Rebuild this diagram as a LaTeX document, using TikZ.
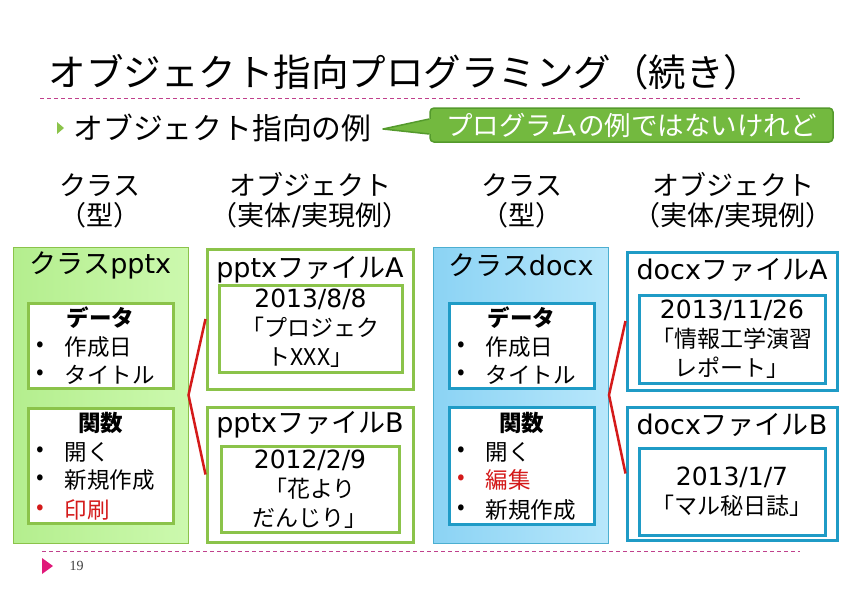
\documentclass[tikz,border=0pt]{standalone}
\usepackage{fontspec}
\setmainfont{Noto Sans CJK JP}
\newfontfamily\latin{DejaVu Sans}
\newfontfamily\pagenumfont{Liberation Serif}
\usetikzlibrary{calc}
\definecolor{leafgreen}{HTML}{8BC34A}
\definecolor{notegreen}{HTML}{73B93F}
\definecolor{notedark}{HTML}{549A2C}
\definecolor{gleft}{HTML}{B4EE8E}
\definecolor{gmid}{HTML}{A2E46E}
\definecolor{gright}{HTML}{CCF9AE}
\definecolor{bleft}{HTML}{8BD3F4}
\definecolor{bmid}{HTML}{92D6F5}
\definecolor{bright}{HTML}{B8E7FB}
\definecolor{seablue}{HTML}{1F9BC6}
\definecolor{sepcol}{HTML}{C0408C}
\definecolor{pagepink}{HTML}{E0197A}
\definecolor{linkred}{HTML}{D41A1A}
\tikzset{
  bigfont/.style  = {font=\fontsize{37.5}{40}\selectfont},
  headfont/.style = {font=\fontsize{27}{30}\selectfont},
  itemfont/.style = {font=\fontsize{22.5}{28}\selectfont},
  sepline/.style  = {sepcol, line width=0.8pt, dash pattern=on 4pt off 3pt},
  clsbox/.style   = {rectangle, minimum width=175pt, minimum height=296pt,
                     inner sep=0pt, line width=1pt},
  pptxcls/.style  = {clsbox, draw=leafgreen, left color=gleft,
                     middle color=gmid, right color=gright},
  docxcls/.style  = {clsbox, draw=seablue!80, left color=bleft,
                     middle color=bmid, right color=bright},
  membox/.style   = {rectangle, fill=white, line width=3pt, inner sep=0pt,
                     minimum width=145pt},
  objbox/.style   = {rectangle, fill=white, line width=3pt, inner sep=0pt},
  datebox/.style  = {rectangle, fill=white, line width=3pt, inner sep=0pt,
                     align=center, font=\fontsize{23}{29}\selectfont},
  memtitle/.style = {font=\fontsize{22.5}{28}\selectfont\bfseries},
  item/.style     = {itemfont, anchor=west},
  callout/.style  = {rectangle, rounded corners=4pt, fill=notegreen,
                     draw=notedark, line width=1.5pt, text=white,
                     minimum width=403pt, minimum height=34pt, inner sep=0pt,
                     font=\fontsize{26.5}{28}\selectfont},
  link/.style     = {linkred, line width=2.5pt},
}
\newcommand{\datetext}[1]{{\latin\fontsize{25}{29}\selectfont #1}}
\begin{document}
\begin{tikzpicture}[x=1pt, y=-1pt]
  \useasboundingbox (0,0) rectangle (842,595);

  % title and rules
  \node[bigfont, anchor=west] (title) at (45,72) {オブジェクト指向プログラミング（続き）};
  \draw[sepline] (40,98) -- (800,98);
  \draw[sepline] (42,551) -- (800,551);

  % topic line with callout
  \fill[leafgreen] (57,122) -- (64,128) -- (57,134) -- cycle;
  \node[anchor=west, font=\fontsize{29.8}{32}\selectfont] (topic) at (70,128) {オブジェクト指向の例};
  \node[callout] (note) at (631.5,125) {プログラムの例ではないけれど};
  \coordinate (tip) at (383,129);
  \fill[notegreen] ($(note.west)+(2,-6)$) -- (tip) -- ($(note.west)+(2,9)$) -- cycle;
  \draw[notedark, line width=1.5pt, line join=round]
    ($(note.west)+(0,-6)$) -- (tip) -- ($(note.west)+(0,9)$);

  % column heads
  \foreach \x/\a/\b/\n in {100/クラス/（型）/h1, 310/オブジェクト/{（実体{\latin /}実現例）}/h2,
                           522/クラス/（型）/h3, 733/オブジェクト/{（実体{\latin /}実現例）}/h4} {
    \node[headfont] (\n top) at (\x,185) {\a};
    \node[headfont] (\n sub) at (\x,215) {\b};
  }

  % class pptx
  \node[pptxcls] (pptx) at (100.5,395) {};
  \node[headfont] (pptxname) at (100.5,265) {クラス{\latin pptx}};
  \node[membox, draw=leafgreen, minimum height=85pt] (pptxdata) at (100.5,345.5) {};
  \node[memtitle] (pptxdatat) at (100.5,318) {データ};
  \node[membox, draw=leafgreen, minimum height=115pt] (pptxfunc) at (100.5,465.5) {};
  \node[memtitle] (pptxfunct) at (100.5,423) {関数};
  \foreach \y/\t/\c in {347/作成日/black, 375/タイトル/black,
                        452/開く/black, 480/新規作成/black, 510/印刷/linkred} {
    \node[itemfont, text=\c] (pdot\y) at (40,\y) {•};
    \node[item, text=\c] (pitem\y) at (61,\y) {\t};
  }

  % pptx objects
  \node[objbox, draw=leafgreen, minimum width=206pt, minimum height=140pt] (pptxA) at (310,319) {};
  \node[headfont] (pptxAname) at (310,270) {{\latin pptx}ファイル{\latin A}};
  \node[datebox, draw=leafgreen, minimum width=183pt, minimum height=87pt] (pptxAval) at (310.5,328.5)
    {\datetext{2013/8/8}\\「プロジェク\\トXXX」};
  \node[objbox, draw=leafgreen, minimum width=206pt, minimum height=135pt] (pptxB) at (310,474.5) {};
  \node[headfont] (pptxBname) at (310,425) {{\latin pptx}ファイル{\latin B}};
  \node[datebox, draw=leafgreen, minimum width=178pt, minimum height=86pt] (pptxBval) at (310,489)
    {\datetext{2012/2/9}\\「花より\\だんじり」};
  \draw[link, line join=miter] (pptxA.west) -- (pptx.east) -- (pptxB.west);

  % class docx
  \node[docxcls] (docx) at (521,395) {};
  \node[headfont] (docxname) at (521,265) {クラス{\latin docx}};
  \node[membox, draw=seablue, minimum height=85pt] (docxdata) at (521.5,345.5) {};
  \node[memtitle] (docxdatat) at (521.5,318) {データ};
  \node[membox, draw=seablue, minimum height=117pt] (docxfunc) at (521.5,465.5) {};
  \node[memtitle] (docxfunct) at (521.5,423) {関数};
  \foreach \y/\t/\c in {347/作成日/black, 375/タイトル/black,
                        452/開く/black, 480/編集/linkred, 510/新規作成/black} {
    \node[itemfont, text=\c] (ddot\y) at (461,\y) {•};
    \node[item, text=\c] (ditem\y) at (482,\y) {\t};
  }

  % docx objects
  \node[objbox, draw=seablue, minimum width=210pt, minimum height=138pt] (docxA) at (732,321) {};
  \node[headfont] (docxAname) at (732,270) {{\latin docx}ファイル{\latin A}};
  \node[datebox, draw=seablue, minimum width=186pt, minimum height=88pt] (docxAval) at (732,339)
    {\datetext{2013/11/26}\\「情報工学演習\\レポート」};
  \node[objbox, draw=seablue, minimum width=210pt, minimum height=133pt] (docxB) at (732,473.5) {};
  \node[headfont] (docxBname) at (732,425) {{\latin docx}ファイル{\latin B}};
  \node[datebox, draw=seablue, minimum width=186pt, minimum height=87pt] (docxBval) at (732,491.5)
    {\datetext{2013/1/7}\\「マル秘日誌」};
  \draw[link, line join=miter] (docxA.west) -- (docx.east) -- (docxB.west);

  % page number
  \fill[pagepink] (42,558) -- (53,566) -- (42,574) -- cycle;
  \node[anchor=west, font=\fontsize{14}{16}\pagenumfont, text=black!75] (pagenum) at (66,566) {19};
\end{tikzpicture}
\end{document}
